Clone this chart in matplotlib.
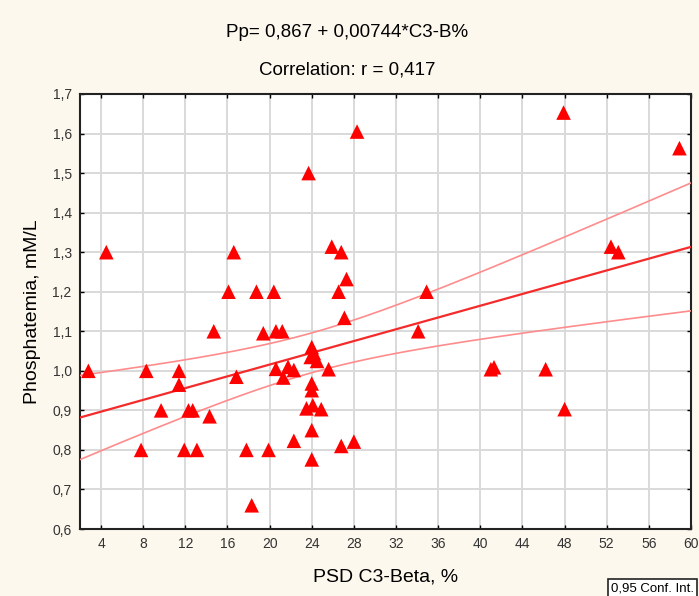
import numpy as np
import matplotlib
matplotlib.use("Agg")
import matplotlib.pyplot as plt

plt.rcParams['font.family'] = ['Liberation Sans Narrow', 'Liberation Sans', 'DejaVu Sans']

# Data
psd_c3_beta = [2.8, 4.5, 7.8, 8.3, 9.7, 11.4, 11.4, 11.9, 12.3, 12.7,
               13.1, 14.3, 14.7, 16.1, 16.6, 16.85, 17.8, 18.3, 18.75, 19.4,
               19.9, 20.4, 20.6, 21.2, 20.6, 21.3, 21.75, 22.3, 22.3, 23.5,
               23.7, 24.0, 23.9, 24.5, 24.2, 24.0, 24.0, 24.1, 24.0, 24.0,
               24.9, 25.6, 25.9, 26.8, 27.3, 26.55, 27.1, 26.8, 28.0, 28.3,
               34.1, 34.9, 41.0, 41.3, 46.2, 48.0, 47.9, 52.4, 53.1, 58.9]
phosphatemia = [1.00, 1.30, 0.80, 1.00, 0.90, 1.00, 0.965, 0.80, 0.90, 0.90,
                0.80, 0.885, 1.10, 1.20, 1.30, 0.985, 0.80, 0.66, 1.20, 1.095,
                0.80, 1.20, 1.10, 1.10, 1.005, 0.983, 1.01, 1.002, 0.823, 0.905,
                1.50, 1.06, 1.035, 1.025, 1.045, 0.968, 0.951, 0.913, 0.850, 0.776,
                0.903, 1.004, 1.314, 1.30, 1.232, 1.20, 1.134, 0.81, 0.821, 1.605,
                1.10, 1.20, 1.004, 1.009, 1.004, 0.903, 1.653, 1.314, 1.30, 1.563]

intercept = 0.867
slope = 0.00744
conf_level = 0.95

x_ticks = [4, 8, 12, 16, 20, 24, 28, 32, 36, 40, 44, 48, 52, 56, 60]
x_tick_labels = ["4", "8", "12", "16", "20", "24", "28", "32", "36", "40",
                 "44", "48", "52", "56", "60"]
y_ticks = [0.6, 0.7, 0.8, 0.9, 1.0, 1.1, 1.2, 1.3, 1.4, 1.5, 1.6, 1.7]
y_tick_labels = ["0,6", "0,7", "0,8", "0,9", "1,0", "1,1", "1,2", "1,3",
                 "1,4", "1,5", "1,6", "1,7"]

title1 = "Pp= 0,867 + 0,00744*C3-B%"
title2 = "Correlation: r = 0,417"
xlabel = "PSD C3-Beta, %"
ylabel = "Phosphatemia, mM/L"
legend_text = "0,95 Conf. Int."

x = np.array(psd_c3_beta)
y = np.array(phosphatemia)
n = len(x)

fig = plt.figure(figsize=(6.99, 5.96), dpi=100, facecolor='#fdf8ee')
ax = fig.add_axes([0.1144, 0.1124, 0.8742, 0.7299])
ax.set_facecolor('white')
ax.set_xlim(2, 60)
ax.set_ylim(0.6, 1.7)

# regression line and confidence band
xs = np.linspace(2, 60, 300)
yfit = intercept + slope * xs
resid = y - (intercept + slope * x)
s = np.sqrt(np.sum(resid ** 2) / (n - 2))
sxx = np.sum((x - x.mean()) ** 2)
tval = 2.002  # t(0.975, df=57)
half = tval * s * np.sqrt(1.0 / n + (xs - x.mean()) ** 2 / sxx)

ax.plot(xs, yfit + half, color='#ff8c8c', lw=1.2, zorder=3)
ax.plot(xs, yfit - half, color='#ff8c8c', lw=1.2, zorder=3)
ax.plot(xs, yfit, color='#f52a2a', lw=1.6, zorder=3)

ax.scatter(x, y, marker='^', s=110, color='#ff0000', edgecolors='none', zorder=4)

ax.set_xticks(x_ticks)
ax.set_xticklabels(x_tick_labels)
ax.set_yticks(y_ticks)
ax.set_yticklabels(y_tick_labels)
ax.grid(True, color='#d9d9d9', lw=1.4, zorder=0)
ax.set_axisbelow(True)
ax.tick_params(direction='in', length=3, width=1, top=True, right=True,
               labelsize=10, labelcolor='#333333', pad=6)
for sp in ax.spines.values():
    sp.set_linewidth(1.5)
    sp.set_color('#222222')

ax.set_xlabel(xlabel, fontsize=14, labelpad=12)
ax.set_ylabel(ylabel, fontsize=14, labelpad=8)

fig.text(0.497, 0.945, title1, ha='center', va='center', fontsize=13.5)
fig.text(0.497, 0.883, title2, ha='center', va='center', fontsize=13.5)

fig.text(0.874, 0.013, legend_text, ha='left', va='center', fontsize=9.5,
         bbox=dict(boxstyle='square,pad=0.25', facecolor='white',
                   edgecolor='#222222', lw=1.2))

fig.savefig('out.png', dpi=100, facecolor=fig.get_facecolor())
